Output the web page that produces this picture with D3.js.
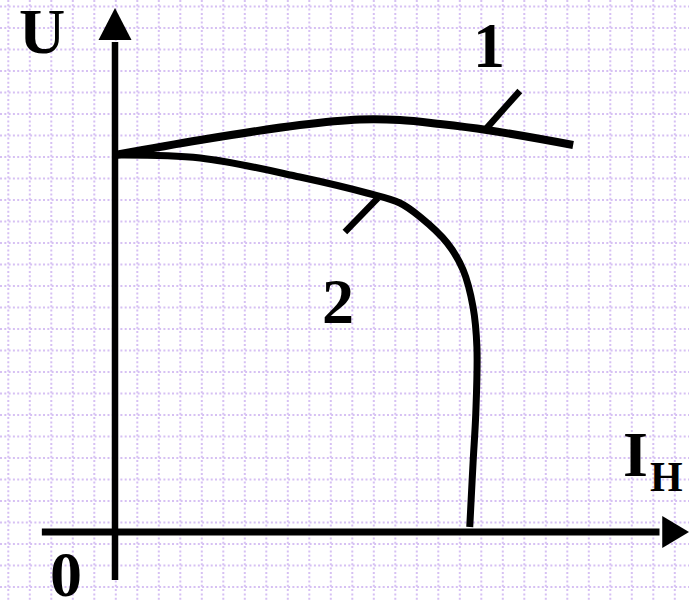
<!DOCTYPE html>
<html>
<head>
<meta charset="utf-8">
<script src="https://cdn.jsdelivr.net/npm/d3@7"></script>
<style>
  body { margin: 0; background: #fff; }
  text { font-family: "Liberation Serif", "DejaVu Serif", serif; font-weight: bold; fill: #000; }
</style>
</head>
<body>
<div id="chart"></div>
<script>
const width = 689, height = 600;

// curve 1 : U(I) points, axis units
const curve1X = [0, 15.5, 33.6, 44.5, 51.8, 59.1, 67.6, 83.3];
const curve1Y = [75.4, 78.4, 81.4, 82.5, 82.4, 81.6, 80.4, 77.4];

// curve 2
const curve2X = [0, 15.5, 33.6, 45.8, 51.8, 55.5, 60.4, 63.3, 65.1, 65.8, 65.6, 65.1, 64.5];
const curve2Y = [75.4, 74.8, 71.0, 67.8, 65.8, 63.0, 57.8, 52.4, 45.0, 37.0, 23.8, 13.8, 1.0];

// little marker strokes that point at each curve
const tick1 = [[67.6, 80.8], [73.6, 88.2]];
const tick2 = [[47.8, 66.8], [41.8, 60.0]];

const labels = ["U", "1", "2", "0"];

const svg = d3.select("#chart")
  .append("svg")
    .attr("width", width)
    .attr("height", height);

// x: 0..100 -> 115..665, y: 0..100 -> 532..32
const x = d3.scaleLinear().domain([0, 100]).range([115, 665]);
const y = d3.scaleLinear().domain([0, 100]).range([532, 32]);

// background dotted grid
const grid = svg.append("g").attr("stroke", "#d6c0f3").attr("stroke-width", 2)
  .attr("stroke-dasharray", "2,2.3")
grid.selectAll(".v")
  .data(d3.range(8.3, width, 21.5))
  .join("line")
    .attr("x1", d => d).attr("x2", d => d)
    .attr("y1", 0).attr("y2", height);
grid.selectAll(".h")
  .data(d3.range(6.5, height, 21.5))
  .join("line")
    .attr("y1", d => d).attr("y2", d => d)
    .attr("x1", 0).attr("x2", width);

// axes with arrow heads
svg.append("line")
  .attr("x1", x(0)).attr("x2", x(0))
  .attr("y1", y(-9.6)).attr("y2", y(98))
  .attr("stroke", "#000").attr("stroke-width", 6.5);
svg.append("path")
  .attr("d", `M${x(0)},${y(104.8)} L${x(0) - 16.5},${y(98.4)} L${x(0) + 16.5},${y(98.4)} Z`)
  .attr("fill", "#000");

svg.append("line")
  .attr("x1", x(-13.3)).attr("x2", x(99))
  .attr("y1", y(0)).attr("y2", y(0))
  .attr("stroke", "#000").attr("stroke-width", 7);
svg.append("path")
  .attr("d", `M${x(104.4)},${y(0)} L${x(99.5)},${y(0) - 16} L${x(99.5)},${y(0) + 16} Z`)
  .attr("fill", "#000");

const line = d3.line()
  .x(d => x(d[0]))
  .y(d => y(d[1]))
  .curve(d3.curveCatmullRom.alpha(0.5));

svg.append("path")
  .datum(curve1X.map((v, i) => [v, curve1Y[i]]))
  .attr("d", line)
  .attr("fill", "none").attr("stroke", "#000").attr("stroke-width", 8)
  .attr("stroke-linecap", "butt");

svg.append("path")
  .datum(curve2X.map((v, i) => [v, curve2Y[i]]))
  .attr("d", line)
  .attr("fill", "none").attr("stroke", "#000").attr("stroke-width", 7)
  .attr("stroke-linecap", "butt");

svg.selectAll(".tick")
  .data([tick1, tick2])
  .join("path")
    .attr("d", d3.line().x(d => x(d[0])).y(d => y(d[1])))
    .attr("stroke", "#000").attr("stroke-width", 6.5).attr("fill", "none");

// labels
svg.append("text").attr("x", 19).attr("y", 53).attr("font-size", 64).text(labels[0]);
svg.append("text").attr("x", 489).attr("y", 67).attr("font-size", 64)
  .attr("text-anchor", "middle").text(labels[1]);
svg.append("text").attr("x", 338).attr("y", 323).attr("font-size", 64)
  .attr("text-anchor", "middle").text(labels[2]);
svg.append("text").attr("x", 66).attr("y", 596).attr("font-size", 64)
  .attr("text-anchor", "middle").text(labels[3]);

const iLabel = svg.append("text").attr("x", 623).attr("y", 476).attr("font-size", 64);
iLabel.append("tspan").text("I");
iLabel.append("tspan").attr("font-size", 42).attr("dx", 2).attr("dy", 15).text("H");
</script>
</body>
</html>
